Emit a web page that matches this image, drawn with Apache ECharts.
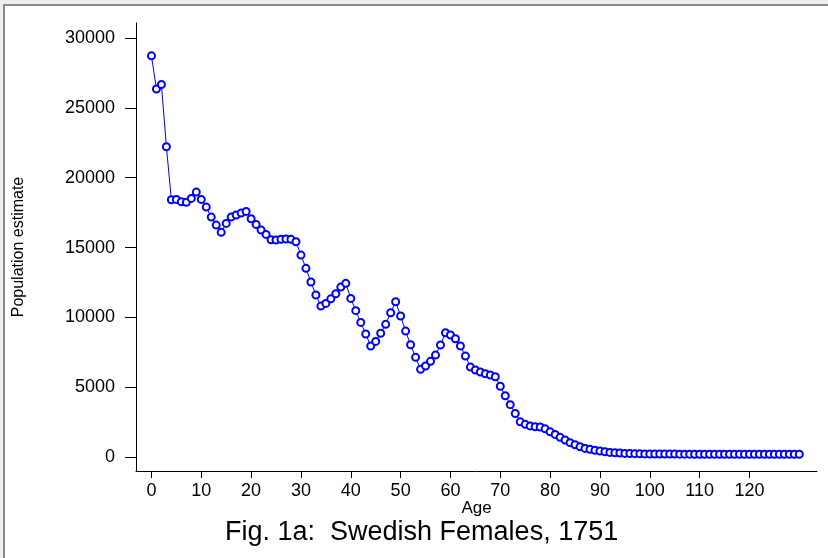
<!DOCTYPE html>
<html>
<head>
<meta charset="utf-8">
<script src="https://cdn.jsdelivr.net/npm/echarts@6/dist/echarts.min.js"></script>
<style>
  html, body { margin: 0; padding: 0; background: #efefef; }
  #chart { width: 828px; height: 558px; }
</style>
</head>
<body>
<div id="chart"></div>
<script>
// age 0..130, population estimate
var ages = [];
for (var a = 0; a <= 130; a++) ages.push(a);

var females = [
  28730, 26350, 26680, 22220, 18420, 18450, 18280, 18240, 18520, 18970,
  18450, 17900, 17180, 16610, 16090, 16730, 17180, 17330, 17470, 17590,
  17060, 16660, 16250, 15940, 15560, 15540, 15590, 15610, 15590, 15420,
  14460, 13510, 12530, 11600, 10810, 11000, 11330, 11690, 12170, 12440,
  11360, 10480, 9640, 8810, 7950, 8280, 8860, 9500, 10330, 11120,
  10100, 9020, 8040, 7140, 6280, 6520, 6850, 7300, 8020, 8900,
  8740, 8470, 7950, 7230, 6440, 6230, 6090, 5960, 5870, 5750,
  5070, 4390, 3750, 3120, 2520, 2340, 2230, 2170, 2150, 2020,
  1810, 1620, 1410, 1220, 1030, 880, 740, 620, 550, 480,
  430, 380, 330, 310, 290, 260, 250, 240, 230, 225,
  220, 215, 215, 210, 210, 210, 205, 205, 205, 200,
  200, 200, 200, 200, 200, 200, 200, 200, 200, 200,
  200, 200, 200, 200, 200, 200, 200, 200, 200, 200,
  200
];

var xTicks = [0, 10, 20, 30, 40, 50, 60, 70, 80, 90, 100, 110, 120];
var yTicks = [0, 5000, 10000, 15000, 20000, 25000, 30000];

var font = 'Liberation Sans, Arial, sans-serif';
var plain = function (v) { return String(v); };

var chart = echarts.init(document.getElementById('chart'));
chart.setOption({
  animation: false,
  backgroundColor: 'transparent',
  graphic: [
    { type: 'rect', z: -100, shape: { x: 4, y: 5, width: 840, height: 570 },
      style: { fill: '#ffffff', stroke: '#8a8a8a', lineWidth: 2 } }
  ],
  title: {
    text: 'Fig. 1a:  Swedish Females, 1751',
    left: 220, top: 514,
    textStyle: { fontFamily: font, fontSize: 27, fontWeight: 'normal', color: '#000' }
  },
  grid: { left: 136, top: 23, right: 11, bottom: 87 },
  xAxis: {
    type: 'value', min: -3.1, max: 133.55,
    name: 'Age', nameLocation: 'middle', nameGap: 29, nameMoveOverlap: false,
    nameTextStyle: { fontFamily: font, fontSize: 17, color: '#000' },
    axisLine: { show: true, onZero: false, lineStyle: { color: '#000', width: 1 } },
    axisTick: { show: true, length: 7, lineStyle: { color: '#000' }, customValues: xTicks },
    axisLabel: { fontFamily: font, fontSize: 18, color: '#000', margin: 11, customValues: xTicks, formatter: plain },
    splitLine: { show: false }
  },
  yAxis: {
    type: 'value', min: -1000, max: 31080,
    name: 'Population estimate', nameLocation: 'middle', nameGap: 109, nameMoveOverlap: false,
    nameTextStyle: { fontFamily: font, fontSize: 16, color: '#000' },
    axisLine: { show: true, onZero: false, lineStyle: { color: '#000', width: 1 } },
    axisTick: { show: true, length: 11, lineStyle: { color: '#000' }, customValues: yTicks },
    axisLabel: { fontFamily: font, fontSize: 18, color: '#000', margin: 21, customValues: yTicks, formatter: plain },
    splitLine: { show: false }
  },
  series: [{
    type: 'line',
    data: ages.map(function (a, i) { return [a, females[i]]; }),
    symbol: 'emptyCircle',
    symbolSize: 7,
    showAllSymbol: true,
    lineStyle: { color: '#0000ff', width: 1 },
    itemStyle: { color: '#0000ff', borderWidth: 0.8 }
  }]
});
</script>
</body>
</html>
